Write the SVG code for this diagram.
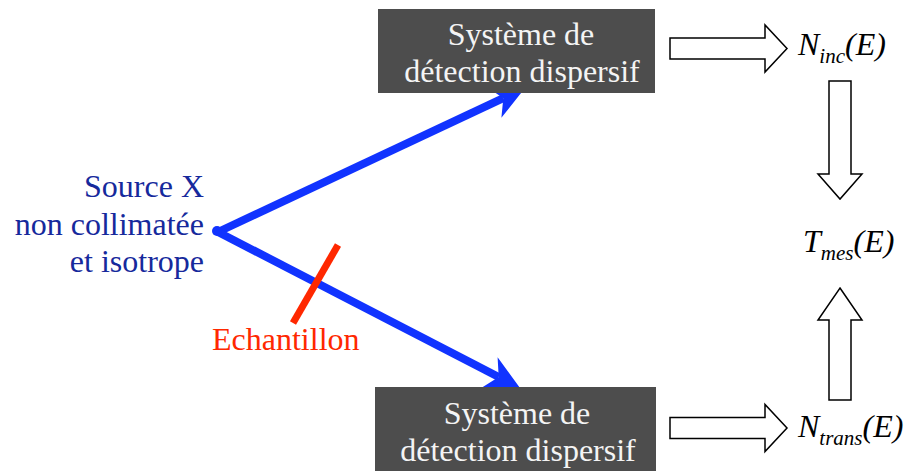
<svg xmlns="http://www.w3.org/2000/svg" width="908" height="471" viewBox="0 0 908 471">
<style>
text{font-family:"Liberation Serif","Times New Roman",serif;font-size:32px}
.box{fill:#4d4d4d}
.boxt{fill:#f4f4f4;text-anchor:middle}
.src{fill:#16299c;text-anchor:end}
.math{font-style:italic;fill:#000}
.sub{font-size:21px}
.ray{stroke:#1133ff;stroke-width:8;fill:none}
.head{fill:#1133ff}
.blk{fill:#fff;stroke:#000;stroke-width:1.5;stroke-linejoin:miter}
</style>
<rect width="908" height="471" fill="#fff"/>
<g id="connectors">
<path class="ray" d="M218,232 L503.3,98.2"/>
<polygon class="head" points="525,88 487,87 503.3,98.2 501.4,117.8"/>
<path class="ray" d="M218,232 L498.7,377"/>
<polygon class="head" points="520,388 497.6,357.3 498.7,377 482,387.5"/>
<line x1="338" y1="245" x2="293" y2="323" stroke="#ff2800" stroke-width="7"/>
<polygon class="blk" points="670,38 765,38 765,25 787,48.5 765,72 765,59 670,59"/>
<polygon class="blk" points="670,417.5 765,417.5 765,404.5 787,428 765,451.5 765,438.5 670,438.5"/>
<polygon class="blk" points="829,81 851,81 851,174 862,174 840,199 818,174 829,174"/>
<polygon class="blk" points="840,288 862,320 851,320 851,400 829,400 829,320 818,320"/>
</g>
<g id="source">
<circle cx="217" cy="231" r="5" fill="#1133ff"/>
<text class="src" x="204" y="197">Source X</text>
<text class="src" x="204" y="235">non collimatée</text>
<text class="src" x="204" y="272">et isotrope</text>
</g>
<g id="echantillon">
<text x="212" y="350" fill="#ff2800">Echantillon</text>
</g>
<g id="detecteur-haut">
<rect class="box" x="378" y="9" width="277" height="84"/>
<text class="boxt" x="521" y="45">Système de</text>
<text class="boxt" x="522" y="82">détection dispersif</text>
</g>
<g id="detecteur-bas">
<rect class="box" x="375" y="387" width="281" height="90"/>
<text class="boxt" x="517" y="424">Système de</text>
<text class="boxt" x="518" y="461">détection dispersif</text>
</g>
<g id="Ninc">
<text class="math" x="798" y="55">N<tspan class="sub" dy="8">inc</tspan><tspan dy="-8">(E)</tspan></text>
</g>
<g id="Tmes">
<text class="math" x="803" y="252">T<tspan class="sub" dy="8">mes</tspan><tspan dy="-8">(E)</tspan></text>
</g>
<g id="Ntrans">
<text class="math" x="798" y="437">N<tspan class="sub" dy="8">trans</tspan><tspan dy="-8">(E)</tspan></text>
</g>
</svg>
